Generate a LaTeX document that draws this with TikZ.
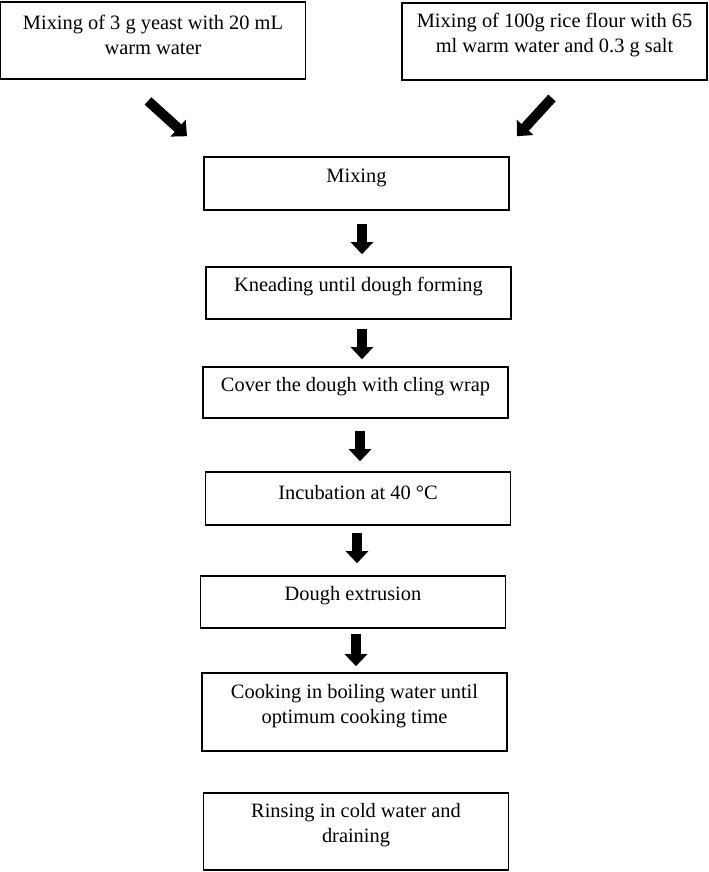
\documentclass[tikz,border=0pt]{standalone}
\usepackage{fontspec}
\setmainfont{Liberation Serif}
\usepackage{tikz}
\usetikzlibrary{arrows.meta}
\usetikzlibrary{calc}

\begin{document}
\begin{tikzpicture}[x=0.75pt, y=-0.75pt]

  \tikzset{stepbox/.style = {draw, line width=1.2pt, minimum width=228.75pt, minimum height=#1}}
  \tikzset{steptext/.style = {yshift=4.5pt, align=center, font=\fontsize{15.3}{18.75}\selectfont}}
  \tikzset{blockarrow/.style = {-{Triangle[width=16.5pt, length=9pt]}, line width=7.5pt}}
  \useasboundingbox (0,0) rectangle (709,872);
  % boxes
  \node[stepbox=58pt, label={[steptext]center:Mixing of 3 g yeast with 20 mL\\warm water}] (yeast) at (153,40.5) {};
  \node[stepbox=58pt, label={[steptext]center:Mixing of 100g rice flour with 65\\ml warm water and 0.3 g salt}] (flour) at (554.5,41.5) {};
  \node[stepbox=39.75pt, label={[steptext]center:Mixing}] (mix) at (356.5,183.5) {};
  \node[stepbox=39pt, label={[steptext]center:Kneading until dough forming}] (knead) at (358.5,293) {};
  \node[stepbox=38.25pt, label={[steptext]center:Cover the dough with cling wrap}] (cover) at (355.5,392.5) {};
  \node[stepbox=39.75pt, label={[steptext]center:Incubation at 40 °C}] (incub) at (358,498.5) {};
  \node[stepbox=39pt, label={[steptext]center:Dough extrusion}] (extr) at (353,602) {};
  \node[stepbox=58.5pt, label={[steptext]center:Cooking in boiling water until\\optimum cooking time}] (cook) at (354.5,712) {};
  \node[stepbox=57.75pt, label={[steptext]center:Rinsing in cold water and\\draining}] (rinse) at (356,831.5) {};
  % arrows
  \draw[blockarrow] ($(yeast.south)+(-5,21)$) -- ($(mix.north)+(-169.5,-20)$);
  \draw[blockarrow] ($(flour.south)+(-2.5,17)$) -- ($(mix.north)+(160.5,-20)$);
  \draw[blockarrow, shorten <=9.75pt, shorten >=9pt] ([xshift=4.1pt]mix.south) -- ([xshift=4.1pt]mix.south |- knead.north);
  \draw[blockarrow, shorten <=6.75pt, shorten >=5.25pt] ([xshift=2.6pt]knead.south) -- ([xshift=2.6pt]knead.south |- cover.north);
  \draw[blockarrow, shorten <=9pt, shorten >=7.5pt] ([xshift=3.4pt]cover.south) -- ([xshift=3.4pt]cover.south |- incub.north);
  \draw[blockarrow, shorten <=5.25pt, shorten >=9pt] ([xshift=-0.75pt]incub.south) -- ([xshift=-0.75pt]incub.south |- extr.north);
  \draw[blockarrow, shorten <=3.75pt, shorten >=4.5pt] ([xshift=2.25pt]extr.south) -- ([xshift=2.25pt]extr.south |- cook.north);
\end{tikzpicture}
\end{document}
